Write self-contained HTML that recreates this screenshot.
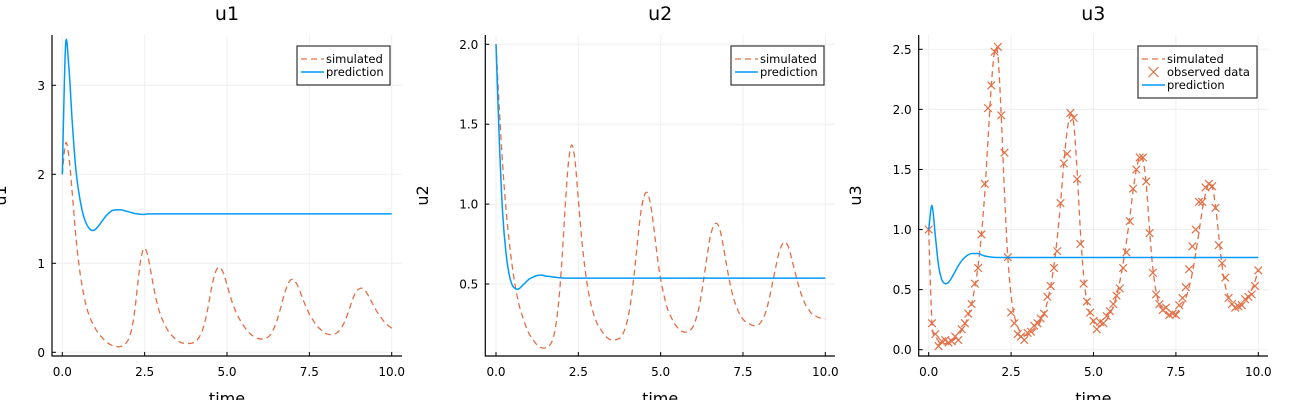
<!DOCTYPE html>
<html><head><meta charset="utf-8"><style>
html,body{margin:0;padding:0;background:#fff;}
svg{display:block;font-family:"DejaVu Sans","Liberation Sans",sans-serif;}
</style></head><body>
<svg id="chart" width="1300" height="400" viewBox="0 0 1300 400" xmlns="http://www.w3.org/2000/svg"></svg>
<script>
const times = [];
for (let i = 0; i <= 100; i++) times.push(i / 10);

const u1Simulated = [2.0,2.35,2.2,1.8,1.35,1.0,0.75,0.56,0.43,0.34,0.27,0.21,0.17,0.13,0.1,0.08,0.07,0.06,0.07,0.09,0.14,0.25,0.47,0.8,1.08,1.17,1.08,0.88,0.68,0.52,0.4,0.32,0.25,0.2,0.16,0.13,0.11,0.1,0.1,0.1,0.11,0.14,0.2,0.3,0.46,0.66,0.84,0.94,0.95,0.88,0.76,0.63,0.52,0.43,0.36,0.3,0.25,0.21,0.18,0.16,0.15,0.15,0.16,0.19,0.25,0.34,0.46,0.6,0.72,0.8,0.82,0.78,0.7,0.6,0.51,0.43,0.37,0.31,0.27,0.24,0.21,0.2,0.2,0.21,0.24,0.29,0.37,0.47,0.58,0.67,0.71,0.72,0.69,0.63,0.56,0.49,0.43,0.38,0.33,0.3,0.27];
const u1Prediction = [2.0,3.45,3.2,2.6,2.1,1.8,1.6,1.47,1.4,1.37,1.38,1.42,1.47,1.52,1.56,1.59,1.6,1.6,1.6,1.59,1.58,1.57,1.56,1.555,1.55,1.55,1.555,1.555,1.555,1.555,1.555,1.555,1.555,1.555,1.555,1.555,1.555,1.555,1.555,1.555,1.555,1.555,1.555,1.555,1.555,1.555,1.555,1.555,1.555,1.555,1.555,1.555,1.555,1.555,1.555,1.555,1.555,1.555,1.555,1.555,1.555,1.555,1.555,1.555,1.555,1.555,1.555,1.555,1.555,1.555,1.555,1.555,1.555,1.555,1.555,1.555,1.555,1.555,1.555,1.555,1.555,1.555,1.555,1.555,1.555,1.555,1.555,1.555,1.555,1.555,1.555,1.555,1.555,1.555,1.555,1.555,1.555,1.555,1.555,1.555,1.555];

const u2Simulated = [2.0,1.6,1.25,0.98,0.77,0.6,0.47,0.37,0.3,0.24,0.19,0.16,0.13,0.11,0.1,0.1,0.11,0.14,0.22,0.38,0.64,0.98,1.26,1.37,1.27,1.03,0.79,0.6,0.46,0.36,0.29,0.24,0.21,0.18,0.16,0.15,0.15,0.155,0.17,0.21,0.28,0.4,0.57,0.77,0.95,1.05,1.07,0.99,0.84,0.67,0.53,0.43,0.35,0.3,0.26,0.23,0.21,0.2,0.2,0.21,0.24,0.3,0.39,0.52,0.66,0.79,0.86,0.88,0.84,0.74,0.62,0.51,0.42,0.36,0.31,0.28,0.26,0.25,0.24,0.24,0.25,0.28,0.33,0.41,0.51,0.61,0.7,0.75,0.76,0.72,0.64,0.56,0.48,0.42,0.37,0.34,0.31,0.3,0.29,0.285,0.28];
const u2Prediction = [2.0,1.4,0.95,0.7,0.56,0.49,0.47,0.47,0.49,0.51,0.53,0.54,0.55,0.555,0.555,0.55,0.548,0.545,0.542,0.54,0.538,0.537,0.537,0.537,0.537,0.537,0.537,0.537,0.537,0.537,0.537,0.537,0.537,0.537,0.537,0.537,0.537,0.537,0.537,0.537,0.537,0.537,0.537,0.537,0.537,0.537,0.537,0.537,0.537,0.537,0.537,0.537,0.537,0.537,0.537,0.537,0.537,0.537,0.537,0.537,0.537,0.537,0.537,0.537,0.537,0.537,0.537,0.537,0.537,0.537,0.537,0.537,0.537,0.537,0.537,0.537,0.537,0.537,0.537,0.537,0.537,0.537,0.537,0.537,0.537,0.537,0.537,0.537,0.537,0.537,0.537,0.537,0.537,0.537,0.537,0.537,0.537,0.537,0.537,0.537,0.537];

const u3Simulated = [1.0,0.22,0.12,0.07,0.05,0.05,0.06,0.07,0.09,0.12,0.16,0.21,0.28,0.38,0.52,0.7,0.96,1.3,1.75,2.2,2.48,2.45,1.95,1.3,0.77,0.45,0.28,0.19,0.14,0.12,0.12,0.13,0.16,0.19,0.24,0.3,0.4,0.53,0.7,0.93,1.22,1.55,1.82,1.95,1.88,1.5,1.0,0.62,0.4,0.29,0.23,0.2,0.2,0.22,0.25,0.3,0.36,0.45,0.57,0.72,0.9,1.1,1.32,1.5,1.6,1.58,1.38,1.0,0.68,0.48,0.38,0.33,0.3,0.29,0.29,0.3,0.33,0.37,0.43,0.52,0.64,0.8,0.98,1.16,1.3,1.38,1.36,1.2,0.95,0.7,0.53,0.43,0.38,0.36,0.36,0.37,0.4,0.44,0.5,0.57,0.66];
const u3Observed = [1.0,0.22,0.13,0.03,0.07,0.08,0.06,0.07,0.11,0.08,0.17,0.22,0.3,0.38,0.55,0.68,0.96,1.38,2.01,2.2,2.48,2.52,1.95,1.64,0.77,0.31,0.22,0.13,0.11,0.08,0.14,0.15,0.2,0.22,0.26,0.3,0.44,0.53,0.68,0.82,1.22,1.55,1.63,1.97,1.93,1.42,0.88,0.55,0.4,0.31,0.24,0.17,0.23,0.22,0.28,0.32,0.38,0.45,0.51,0.68,0.81,1.07,1.34,1.5,1.6,1.6,1.4,0.97,0.64,0.46,0.38,0.33,0.35,0.29,0.3,0.29,0.37,0.43,0.52,0.67,0.86,1.0,1.23,1.23,1.35,1.38,1.36,1.18,0.87,0.72,0.6,0.43,0.38,0.35,0.36,0.37,0.42,0.44,0.46,0.53,0.66];
const u3Prediction = [1.0,1.2,0.95,0.7,0.58,0.55,0.56,0.6,0.65,0.7,0.74,0.77,0.79,0.8,0.8,0.8,0.79,0.78,0.775,0.77,0.768,0.767,0.767,0.767,0.767,0.767,0.767,0.767,0.767,0.767,0.767,0.767,0.767,0.767,0.767,0.767,0.767,0.767,0.767,0.767,0.767,0.767,0.767,0.767,0.767,0.767,0.767,0.767,0.767,0.767,0.767,0.767,0.767,0.767,0.767,0.767,0.767,0.767,0.767,0.767,0.767,0.767,0.767,0.767,0.767,0.767,0.767,0.767,0.767,0.767,0.767,0.767,0.767,0.767,0.767,0.767,0.767,0.767,0.767,0.767,0.767,0.767,0.767,0.767,0.767,0.767,0.767,0.767,0.767,0.767,0.767,0.767,0.767,0.767,0.767,0.767,0.767,0.767,0.767,0.767,0.767];

const xTicks = [0, 2.5, 5, 7.5, 10];
const xTickLabels = ["0.0", "2.5", "5.0", "7.5", "10.0"];
const u1YTicks = [0, 1, 2, 3];
const u1YTickLabels = ["0", "1", "2", "3"];
const u2YTicks = [0.5, 1.0, 1.5, 2.0];
const u2YTickLabels = ["0.5", "1.0", "1.5", "2.0"];
const u3YTicks = [0, 0.5, 1.0, 1.5, 2.0, 2.5];
const u3YTickLabels = ["0.0", "0.5", "1.0", "1.5", "2.0", "2.5"];

const NS = "http://www.w3.org/2000/svg";
const svg = document.getElementById("chart");
const ORANGE = "#e26f46", BLUE = "#009af9";

function mk(tag, attrs, parent) {
  const e = document.createElementNS(NS, tag);
  for (const k in attrs) e.setAttribute(k, attrs[k]);
  (parent || svg).appendChild(e);
  return e;
}
function smoothPath(pts) {
  let d = "M" + pts[0][0].toFixed(2) + "," + pts[0][1].toFixed(2);
  for (let i = 0; i < pts.length - 1; i++) {
    const p0 = pts[Math.max(i - 1, 0)], p1 = pts[i], p2 = pts[i + 1], p3 = pts[Math.min(i + 2, pts.length - 1)];
    const c1x = p1[0] + (p2[0] - p0[0]) / 6, c1y = p1[1] + (p2[1] - p0[1]) / 6;
    const c2x = p2[0] - (p3[0] - p1[0]) / 6, c2y = p2[1] - (p3[1] - p1[1]) / 6;
    d += "C" + c1x.toFixed(2) + "," + c1y.toFixed(2) + " " + c2x.toFixed(2) + "," + c2y.toFixed(2) + " " + p2[0].toFixed(2) + "," + p2[1].toFixed(2);
  }
  return d;
}

function panel(cfg) {
  const g = mk("g", {});
  
  
  const xs = v => cfg.x0 + (v - 0) / 10 * (cfg.x10 - cfg.x0);
  const ys = v => cfg.yA + (v - cfg.vA) / (cfg.vB - cfg.vA) * (cfg.yB - cfg.yA);
  xTicks.forEach(t => {
    const l = mk("line", {x1: xs(t), x2: xs(t), y1: cfg.top, y2: cfg.bottom, stroke: "#efefef", "stroke-width": 1}, g);
    
    
  });
  cfg.yTicks.forEach(t => {
    const l = mk("line", {x1: cfg.left, x2: cfg.right, y1: ys(t), y2: ys(t), stroke: "#efefef", "stroke-width": 1}, g);
    
    
  });
  const ax = mk("path", {d: `M${cfg.left},${cfg.top} L${cfg.left},${cfg.bottom} L${cfg.right},${cfg.bottom}`, fill: "none", stroke: "#000", "stroke-width": 1.2}, g);
  
  
  xTicks.forEach((t, i) => {
    mk("line", {x1: xs(t), x2: xs(t), y1: cfg.bottom, y2: cfg.bottom - 4, stroke: "#000"}, g);
    const tx = mk("text", {x: xs(t), y: cfg.bottom + 20, "text-anchor": "middle", "font-size": 12, fill: "#000"}, g);
    tx.textContent = xTickLabels[i];
    
    
  });
  cfg.yTicks.forEach((t, i) => {
    mk("line", {x1: cfg.left, x2: cfg.left + 4, y1: ys(t), y2: ys(t), stroke: "#000"}, g);
    const tx = mk("text", {x: cfg.left - 7, y: ys(t) + 4.5, "text-anchor": "end", "font-size": 12, fill: "#000"}, g);
    tx.textContent = cfg.yLabels[i];
    
    
  });
  const title = mk("text", {x: (cfg.left + cfg.right) / 2, y: 20, "text-anchor": "middle", "font-size": 19, fill: "#000"}, g);
  title.textContent = cfg.name;
  
  
  const xl = mk("text", {x: (cfg.left + cfg.right) / 2, y: 404, "text-anchor": "middle", "font-size": 16, fill: "#000"}, g);
  xl.textContent = "time";
  
  
  const ylx = cfg.ylabelX, yly = (cfg.top + cfg.bottom) / 2;
  const yl = mk("text", {x: ylx, y: yly, "text-anchor": "middle", "font-size": 16, fill: "#000", transform: `rotate(-90 ${ylx} ${yly})`}, g);
  yl.textContent = cfg.name;
  
  
  const simPts = times.map((t, i) => [xs(t), ys(cfg.sim[i])]);
  const sp = mk("path", {d: smoothPath(simPts), fill: "none", stroke: ORANGE, "stroke-width": 1.3, "stroke-dasharray": "6,4"}, g);
  
  
  if (cfg.obs) {
    cfg.obs.forEach((v, i) => {
      const cx = xs(times[i]), cy = ys(v), r = 3.8;
      const m = mk("path", {d: `M${cx - r},${cy - r}L${cx + r},${cy + r}M${cx - r},${cy + r}L${cx + r},${cy - r}`, stroke: ORANGE, "stroke-width": 1.2, fill: "none"}, g);
      
      
    });
  }
  const predPts = times.map((t, i) => [xs(t), ys(cfg.pred[i])]);
  const pp = mk("path", {d: smoothPath(predPts), fill: "none", stroke: BLUE, "stroke-width": 1.5}, g);
  
  
  const entries = cfg.obs ? ["simulated", "observed data", "prediction"] : ["simulated", "prediction"];
  const lg = mk("g", {}, g);
  
  
  mk("rect", {x: cfg.legX, y: 46, width: cfg.legW, height: 13 * entries.length + 13, fill: "#fff", stroke: "#333", "stroke-width": 1.2}, lg);
  entries.forEach((e, i) => {
    const y = 59 + i * 13;
    const sx = cfg.legX + 4, ex = cfg.legX + 27;
    let sym;
    if (e === "simulated") sym = mk("line", {x1: sx, x2: ex, y1: y, y2: y, stroke: ORANGE, "stroke-width": 1.3, "stroke-dasharray": "6,4"}, lg);
    else if (e === "prediction") sym = mk("line", {x1: sx, x2: ex, y1: y, y2: y, stroke: BLUE, "stroke-width": 1.5}, lg);
    else { const c = (sx + ex) / 2, r = 5; sym = mk("path", {d: `M${c - r},${y - r}L${c + r},${y + r}M${c - r},${y + r}L${c + r},${y - r}`, stroke: ORANGE, "stroke-width": 1.2}, lg); }
    
    
    const t = mk("text", {x: cfg.legX + 29, y: y + 4, "font-size": 11.5, fill: "#000"}, lg);
    t.textContent = e;
    
    
  });
}

panel({name: "u1", left: 52, right: 402, top: 35, bottom: 356, x0: 62.3, x10: 391.7, yA: 352.3, vA: 0, yB: 85.3, vB: 3,
  yTicks: u1YTicks, yLabels: u1YTickLabels, sim: u1Simulated, pred: u1Prediction, legX: 297, legW: 93, ylabelX: 6});
panel({name: "u2", left: 485.3, right: 835, top: 35, bottom: 356, x0: 496, x10: 825.3, yA: 284, vA: 0.5, yB: 44.3, vB: 2.0,
  yTicks: u2YTicks, yLabels: u2YTickLabels, sim: u2Simulated, pred: u2Prediction, legX: 731, legW: 93, ylabelX: 428});
panel({name: "u3", left: 918.7, right: 1268, top: 35, bottom: 356, x0: 928.7, x10: 1258.3, yA: 349.7, vA: 0, yB: 49.3, vB: 2.5,
  yTicks: u3YTicks, yLabels: u3YTickLabels, sim: u3Simulated, obs: u3Observed, pred: u3Prediction, legX: 1138, legW: 119, ylabelX: 861});
</script>
</body></html>
